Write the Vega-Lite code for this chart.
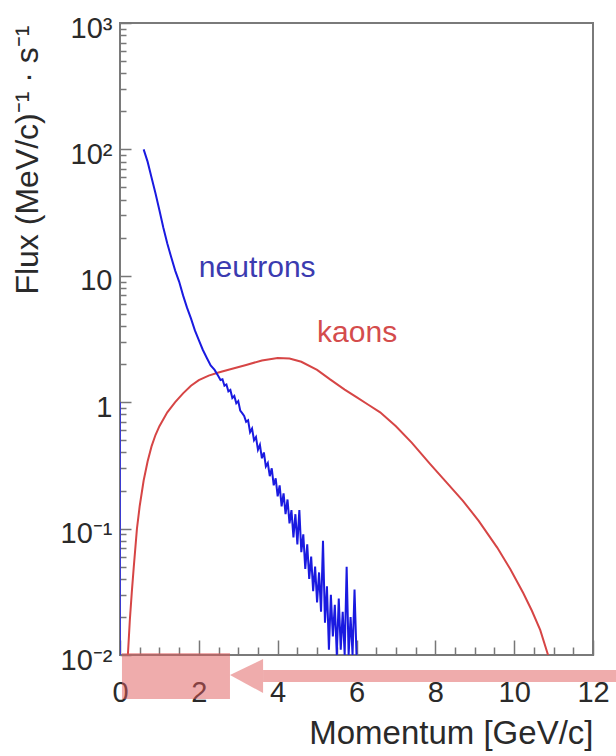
{
  "$schema": "https://vega.github.io/schema/vega-lite/v6.json",
  "width": 473,
  "height": 632,
  "autosize": {"type": "none"},
  "padding": {"left": 120, "top": 23, "right": 23, "bottom": 101},
  "background": "white",
  "config": {"view": {"stroke": "#7a7a7a", "strokeWidth": 2}, "font": "Liberation Sans"},
  "datasets": {
    "curves": [
      {"series": "kaons", "p": 0.2, "flux": 0.01},
      {"series": "kaons", "p": 0.25, "flux": 0.019},
      {"series": "kaons", "p": 0.3, "flux": 0.0316},
      {"series": "kaons", "p": 0.35, "flux": 0.05},
      {"series": "kaons", "p": 0.43, "flux": 0.1},
      {"series": "kaons", "p": 0.5, "flux": 0.151},
      {"series": "kaons", "p": 0.6, "flux": 0.24},
      {"series": "kaons", "p": 0.7, "flux": 0.339},
      {"series": "kaons", "p": 0.8, "flux": 0.447},
      {"series": "kaons", "p": 0.9, "flux": 0.55},
      {"series": "kaons", "p": 1.0, "flux": 0.646},
      {"series": "kaons", "p": 1.2, "flux": 0.832},
      {"series": "kaons", "p": 1.4, "flux": 1.0},
      {"series": "kaons", "p": 1.6, "flux": 1.175},
      {"series": "kaons", "p": 1.8, "flux": 1.349},
      {"series": "kaons", "p": 2.0, "flux": 1.496},
      {"series": "kaons", "p": 2.25, "flux": 1.622},
      {"series": "kaons", "p": 2.5, "flux": 1.718},
      {"series": "kaons", "p": 2.8, "flux": 1.82},
      {"series": "kaons", "p": 3.2, "flux": 1.972},
      {"series": "kaons", "p": 3.6, "flux": 2.138},
      {"series": "kaons", "p": 4.0, "flux": 2.239},
      {"series": "kaons", "p": 4.3, "flux": 2.213},
      {"series": "kaons", "p": 4.6, "flux": 2.089},
      {"series": "kaons", "p": 5.0, "flux": 1.8},
      {"series": "kaons", "p": 5.33, "flux": 1.514},
      {"series": "kaons", "p": 5.7, "flux": 1.259},
      {"series": "kaons", "p": 6.0, "flux": 1.096},
      {"series": "kaons", "p": 6.3, "flux": 0.955},
      {"series": "kaons", "p": 6.6, "flux": 0.832},
      {"series": "kaons", "p": 7.0, "flux": 0.646},
      {"series": "kaons", "p": 7.4, "flux": 0.479},
      {"series": "kaons", "p": 7.87, "flux": 0.324},
      {"series": "kaons", "p": 8.3, "flux": 0.229},
      {"series": "kaons", "p": 8.7, "flux": 0.166},
      {"series": "kaons", "p": 9.1, "flux": 0.115},
      {"series": "kaons", "p": 9.57, "flux": 0.0708},
      {"series": "kaons", "p": 9.9, "flux": 0.0479},
      {"series": "kaons", "p": 10.23, "flux": 0.0309},
      {"series": "kaons", "p": 10.45, "flux": 0.0224},
      {"series": "kaons", "p": 10.66, "flux": 0.0158},
      {"series": "kaons", "p": 10.86, "flux": 0.01},
      {"series": "neutrons-edge", "p": 0, "flux": 0.01},
      {"series": "neutrons-edge", "p": 0, "flux": 1.0},
      {"series": "neutrons", "p": 0.6, "flux": 100},
      {"series": "neutrons", "p": 0.7, "flux": 80},
      {"series": "neutrons", "p": 0.8, "flux": 60},
      {"series": "neutrons", "p": 0.9, "flux": 45},
      {"series": "neutrons", "p": 1.0, "flux": 33},
      {"series": "neutrons", "p": 1.1, "flux": 24},
      {"series": "neutrons", "p": 1.2, "flux": 18},
      {"series": "neutrons", "p": 1.3, "flux": 14},
      {"series": "neutrons", "p": 1.4, "flux": 11},
      {"series": "neutrons", "p": 1.5, "flux": 9},
      {"series": "neutrons", "p": 1.6, "flux": 7},
      {"series": "neutrons", "p": 1.7, "flux": 5.6},
      {"series": "neutrons", "p": 1.8, "flux": 4.6},
      {"series": "neutrons", "p": 1.9, "flux": 3.7},
      {"series": "neutrons", "p": 2.0, "flux": 3.1},
      {"series": "neutrons", "p": 2.1, "flux": 2.6},
      {"series": "neutrons", "p": 2.2, "flux": 2.25},
      {"series": "neutrons", "p": 2.3, "flux": 1.95},
      {"series": "neutrons", "p": 2.4, "flux": 1.8},
      {"series": "neutrons", "p": 2.5, "flux": 1.6},
      {"series": "neutrons", "p": 2.55, "flux": 1.5},
      {"series": "neutrons", "p": 2.6, "flux": 1.52},
      {"series": "neutrons", "p": 2.65, "flux": 1.35},
      {"series": "neutrons", "p": 2.7, "flux": 1.38},
      {"series": "neutrons", "p": 2.75, "flux": 1.22},
      {"series": "neutrons", "p": 2.8, "flux": 1.25},
      {"series": "neutrons", "p": 2.85, "flux": 1.08},
      {"series": "neutrons", "p": 2.9, "flux": 1.12},
      {"series": "neutrons", "p": 2.95, "flux": 0.98},
      {"series": "neutrons", "p": 3.0, "flux": 1.02},
      {"series": "neutrons", "p": 3.05, "flux": 0.86},
      {"series": "neutrons", "p": 3.1, "flux": 0.82},
      {"series": "neutrons", "p": 3.15, "flux": 0.78},
      {"series": "neutrons", "p": 3.2, "flux": 0.7},
      {"series": "neutrons", "p": 3.25, "flux": 0.72},
      {"series": "neutrons", "p": 3.3, "flux": 0.58},
      {"series": "neutrons", "p": 3.35, "flux": 0.62},
      {"series": "neutrons", "p": 3.4, "flux": 0.5},
      {"series": "neutrons", "p": 3.45, "flux": 0.53},
      {"series": "neutrons", "p": 3.5, "flux": 0.42},
      {"series": "neutrons", "p": 3.55, "flux": 0.46},
      {"series": "neutrons", "p": 3.6, "flux": 0.36},
      {"series": "neutrons", "p": 3.65, "flux": 0.4},
      {"series": "neutrons", "p": 3.7, "flux": 0.31},
      {"series": "neutrons", "p": 3.75, "flux": 0.33},
      {"series": "neutrons", "p": 3.8, "flux": 0.26},
      {"series": "neutrons", "p": 3.85, "flux": 0.3},
      {"series": "neutrons", "p": 3.9, "flux": 0.22},
      {"series": "neutrons", "p": 3.95, "flux": 0.25},
      {"series": "neutrons", "p": 4.0, "flux": 0.18},
      {"series": "neutrons", "p": 4.05, "flux": 0.22},
      {"series": "neutrons", "p": 4.1, "flux": 0.15},
      {"series": "neutrons", "p": 4.15, "flux": 0.19},
      {"series": "neutrons", "p": 4.2, "flux": 0.13},
      {"series": "neutrons", "p": 4.25, "flux": 0.17},
      {"series": "neutrons", "p": 4.3, "flux": 0.11},
      {"series": "neutrons", "p": 4.35, "flux": 0.14},
      {"series": "neutrons", "p": 4.4, "flux": 0.085},
      {"series": "neutrons", "p": 4.45, "flux": 0.13},
      {"series": "neutrons", "p": 4.5, "flux": 0.075},
      {"series": "neutrons", "p": 4.55, "flux": 0.14},
      {"series": "neutrons", "p": 4.6, "flux": 0.065},
      {"series": "neutrons", "p": 4.65, "flux": 0.09},
      {"series": "neutrons", "p": 4.7, "flux": 0.048},
      {"series": "neutrons", "p": 4.75, "flux": 0.075},
      {"series": "neutrons", "p": 4.8, "flux": 0.04},
      {"series": "neutrons", "p": 4.85, "flux": 0.06},
      {"series": "neutrons", "p": 4.9, "flux": 0.032},
      {"series": "neutrons", "p": 4.95, "flux": 0.05},
      {"series": "neutrons", "p": 5.0, "flux": 0.026},
      {"series": "neutrons", "p": 5.05, "flux": 0.045},
      {"series": "neutrons", "p": 5.1, "flux": 0.022},
      {"series": "neutrons", "p": 5.15, "flux": 0.08},
      {"series": "neutrons", "p": 5.2, "flux": 0.018},
      {"series": "neutrons", "p": 5.25, "flux": 0.035},
      {"series": "neutrons", "p": 5.3, "flux": 0.011},
      {"series": "neutrons", "p": 5.35, "flux": 0.03},
      {"series": "neutrons", "p": 5.4, "flux": 0.014},
      {"series": "neutrons", "p": 5.45, "flux": 0.025},
      {"series": "neutrons", "p": 5.5, "flux": 0.01},
      {"series": "neutrons", "p": 5.55, "flux": 0.028},
      {"series": "neutrons", "p": 5.6, "flux": 0.011},
      {"series": "neutrons", "p": 5.65, "flux": 0.022},
      {"series": "neutrons", "p": 5.7, "flux": 0.01},
      {"series": "neutrons", "p": 5.75, "flux": 0.05},
      {"series": "neutrons", "p": 5.8, "flux": 0.01},
      {"series": "neutrons", "p": 5.85, "flux": 0.02},
      {"series": "neutrons", "p": 5.9, "flux": 0.01},
      {"series": "neutrons", "p": 5.95, "flux": 0.033},
      {"series": "neutrons", "p": 6.0, "flux": 0.01}
    ],
    "labels": [
      {"series": "neutrons-label", "text": "neutrons", "p": 2.0, "flux": 11.5},
      {"series": "kaons-label", "text": "kaons", "p": 5.0, "flux": 3.53}
    ],
    "box": [{"x1": 0.05, "x2": 2.79, "y1": 0.01037, "y2": 0.00449}],
    "band": [{"x1": 3.63, "x2": 12.7, "y1": 0.0076, "y2": 0.00611}],
    "head": [
      {"p": 2.79, "lo": 0.00695, "hi": 0.00695},
      {"p": 3.63, "lo": 0.005, "hi": 0.00929}
    ]
  },
  "layer": [
    {
      "data": {"name": "curves"},
      "mark": {"type": "line", "strokeWidth": 2, "clip": true},
      "encoding": {
        "x": {
          "field": "p", "type": "quantitative",
          "scale": {"domain": [0, 12], "nice": false, "zero": false},
          "axis": {
            "orient": "bottom",
            "values": [0, 2, 4, 6, 8, 10, 12],
            "format": "d",
            "tickSize": -15, "tickColor": "#777777", "tickWidth": 1.5,
            "domain": false, "grid": false,
            "labelFontSize": 29, "labelColor": "#2a2a2a", "labelFont": "Liberation Sans",
            "labelPadding": 52, "labelBaseline": "middle", "labelFlush": false, "labelOverlap": false,
            "title": "Momentum [GeV/c]", "titleFontSize": 33, "titleFontWeight": "normal",
            "titleColor": "#2a2a2a", "titleFont": "Liberation Sans",
            "titleX": 473, "titleY": 88, "titleAlign": "right", "titleBaseline": "alphabetic"
          }
        },
        "y": {
          "field": "flux", "type": "quantitative",
          "scale": {"type": "log", "domain": [0.01, 1000], "nice": false},
          "axis": {
            "orient": "left",
            "values": [0.01, 0.1, 1, 10, 100, 1000],
            "labelExpr": "datum.value >= 999 ? '10³' : datum.value >= 99 ? '10²' : datum.value >= 9 ? '10' : datum.value >= 0.99 ? '1' : datum.value >= 0.099 ? '10⁻¹' : '10⁻²'",
            "tickSize": -11, "tickColor": "#777777", "tickWidth": 1.5,
            "domain": false, "grid": false,
            "labelFontSize": 29, "labelColor": "#2a2a2a", "labelFont": "Liberation Sans",
            "labelPadding": 19, "labelBaseline": "middle", "labelOffset": 5, "labelFlush": false, "labelOverlap": false,
            "title": "Flux (MeV/c)⁻¹ · s⁻¹", "titleFontSize": 32, "titleFontWeight": "normal",
            "titleColor": "#2a2a2a", "titleFont": "Liberation Sans",
            "titleX": -83, "titleY": 2, "titleAngle": 270, "titleAlign": "right", "titleBaseline": "alphabetic"
          }
        },
        "color": {
          "field": "series", "type": "nominal",
          "scale": {
            "domain": ["neutrons", "neutrons-edge", "kaons", "neutrons-label", "kaons-label"],
            "range": ["#1a1ae0", "#3a3ad0", "#d64545", "#3b3bb0", "#d44c4c"]
          },
          "legend": null
        }
      }
    },
    {
      "data": {"name": "labels"},
      "mark": {"type": "text", "align": "left", "baseline": "middle", "fontSize": 30, "font": "Liberation Sans"},
      "encoding": {
        "x": {
          "field": "p", "type": "quantitative",
          "axis": {
            "orient": "bottom",
            "values": [0.5, 1, 1.5, 2.5, 3, 3.5, 4.5, 5, 5.5, 6.5, 7, 7.5, 8.5, 9, 9.5, 10.5, 11, 11.5],
            "tickSize": -8, "tickColor": "#777777", "tickWidth": 1.5,
            "labels": false, "domain": false, "grid": false, "title": null
          }
        },
        "y": {
          "field": "flux", "type": "quantitative",
          "axis": {
            "orient": "left",
            "values": [0.02, 0.03, 0.04, 0.05, 0.06, 0.07, 0.08, 0.09, 0.2, 0.3, 0.4, 0.5, 0.6, 0.7, 0.8, 0.9, 2, 3, 4, 5, 6, 7, 8, 9, 20, 30, 40, 50, 60, 70, 80, 90, 200, 300, 400, 500, 600, 700, 800, 900],
            "tickSize": -6, "tickColor": "#777777", "tickWidth": 1.5,
            "labels": false, "domain": false, "grid": false, "title": null
          }
        },
        "text": {"field": "text"},
        "color": {"field": "series", "type": "nominal", "legend": null}
      }
    },
    {
      "data": {"name": "box"},
      "mark": {"type": "rect", "fill": "#e05a5a", "opacity": 0.5, "clip": false},
      "encoding": {
        "x": {"field": "x1", "type": "quantitative", "axis": null},
        "x2": {"field": "x2"},
        "y": {"field": "y1", "type": "quantitative", "axis": null},
        "y2": {"field": "y2"}
      }
    },
    {
      "data": {"name": "band"},
      "mark": {"type": "rect", "fill": "#e05a5a", "opacity": 0.5, "clip": false},
      "encoding": {
        "x": {"field": "x1", "type": "quantitative", "axis": null},
        "x2": {"field": "x2"},
        "y": {"field": "y1", "type": "quantitative", "axis": null},
        "y2": {"field": "y2"}
      }
    },
    {
      "data": {"name": "head"},
      "mark": {"type": "area", "orient": "vertical", "fill": "#e05a5a", "opacity": 0.5, "clip": false},
      "encoding": {
        "x": {"field": "p", "type": "quantitative", "axis": null},
        "y": {"field": "hi", "type": "quantitative", "axis": null},
        "y2": {"field": "lo"}
      }
    }
  ],
  "resolve": {"axis": {"x": "independent", "y": "independent"}}
}
